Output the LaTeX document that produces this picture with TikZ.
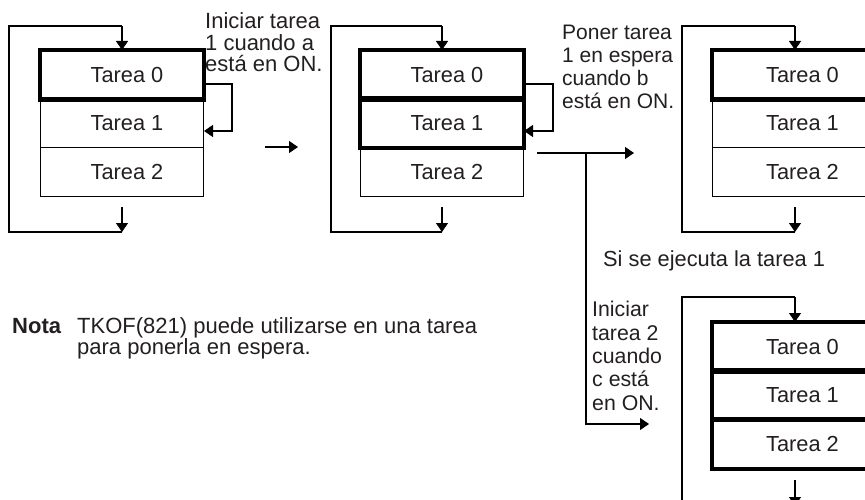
\documentclass[tikz,border=0pt]{standalone}
\usepackage{fontspec}
\setmainfont{Liberation Sans}
\usetikzlibrary{arrows.meta}
\definecolor{txt}{HTML}{231F20}
\begin{document}
\begin{tikzpicture}[x=1pt,y=-1pt,
  lbl/.style={font=\fontsize{21.8}{21.8}\selectfont, text=txt},
  row/.style={draw=black, line width=1pt, minimum width=163pt, minimum height=48.5pt,
              inner sep=0pt, anchor=north west, lbl},
  wide/.style={row, minimum width=170pt},
  bold/.style={draw=black, line width=4.5pt},
  wire/.style={draw=black, line width=1.2pt},
  arr/.style={wire, -{Triangle[length=9pt,width=12pt]}},
  note/.style={text=txt, align=left, anchor=base west, inner sep=0pt},
]
\useasboundingbox (0,0) rectangle (865,500);
\clip (0,0) rectangle (865,500);

% ---------- diagram 1 ----------
\node[row] (a0) at (40,50)    {\hspace*{10pt}Tarea 0};
\node[row] (a1) at (40,98.5)  {\hspace*{10pt}Tarea 1};
\node[row] (a2) at (40,147)   {\hspace*{10pt}Tarea 2};
\draw[bold] (a0.north west) rectangle (a0.south east);
\coordinate (a-t) at (122,26);
\coordinate (a-tl) at (9,26);
\coordinate (a-bl) at (9,232);
\coordinate (a-b) at (122,232);
\coordinate (a-o) at (122,207);
\draw[wire] (a-b) -- (a-bl) -- (a-tl) -- (a-t);
\draw[arr] (a-t) -- (a0.north -| a-t);
\draw[arr] (a-o) -- (a-b);
\coordinate (a-s1) at (232,84);
\coordinate (a-s2) at (232,131);
\draw[arr] (a0.east |- a-s1) -- (a-s1) -- (a-s2) -- (a1.east |- a-s2);
\node[note, font=\fontsize{22}{21.6}\selectfont] (ta) at (205,72)
  {Iniciar tarea\\1 cuando a\\está en ON.};

% arrow between 1 and 2
\coordinate (m1s) at (265,147);
\coordinate (m1e) at (298,147);
\draw[arr] (m1s) -- (m1e);

% ---------- diagram 2 ----------
\node[row] (b0) at (360,50)    {\hspace*{10pt}Tarea 0};
\node[row] (b1) at (360,98.5)  {\hspace*{10pt}Tarea 1};
\node[row] (b2) at (360,147)   {\hspace*{10pt}Tarea 2};
\draw[bold] (b0.north west) rectangle (b0.south east);
\draw[bold] (b1.north west) rectangle (b1.south east);
\coordinate (b-t) at (442,26);
\coordinate (b-tl) at (331,26);
\coordinate (b-bl) at (331,232);
\coordinate (b-b) at (442,232);
\coordinate (b-o) at (442,207);
\draw[wire] (b-b) -- (b-bl) -- (b-tl) -- (b-t);
\draw[arr] (b-t) -- (b0.north -| b-t);
\draw[arr] (b-o) -- (b-b);
\coordinate (b-s1) at (553,84);
\coordinate (b-s2) at (553,131);
\draw[arr] (b0.east |- b-s1) -- (b-s1) -- (b-s2) -- (b1.east |- b-s2);
\node[note, font=\fontsize{21}{23.3}\selectfont] (tb) at (562,109)
  {Poner tarea\\1 en espera\\cuando b\\está en ON.};

% branch arrows
\coordinate (m2s) at (537,153);
\coordinate (m2e) at (634,153);
\coordinate (m2j) at (586,153);
\coordinate (m2c) at (586,424);
\coordinate (m2f) at (649,424);
\draw[arr] (m2s) -- (m2e);
\draw[arr] (m2j) -- (m2c) -- (m2f);

% ---------- diagram 3 ----------
\node[wide] (c0) at (712,50)    {\hspace*{10pt}Tarea 0};
\node[wide] (c1) at (712,98.5)  {\hspace*{10pt}Tarea 1};
\node[wide] (c2) at (712,147)   {\hspace*{10pt}Tarea 2};
\draw[bold] (c0.north west) rectangle (c0.south east);
\coordinate (c-t) at (795,26);
\coordinate (c-tl) at (682,26);
\coordinate (c-bl) at (682,232);
\coordinate (c-b) at (795,232);
\coordinate (c-o) at (795,207);
\draw[wire] (c-b) -- (c-bl) -- (c-tl) -- (c-t);
\draw[arr] (c-t) -- (c0.north -| c-t);
\draw[arr] (c-o) -- (c-b);

\node[lbl, anchor=base west, inner sep=0pt] (si) at (603,266) {Si se ejecuta la tarea 1};

% ---------- diagram 4 ----------
\node[wide] (d0) at (712,322)    {\hspace*{10pt}Tarea 0};
\node[wide] (d1) at (712,370.7)  {\hspace*{10pt}Tarea 1};
\node[wide] (d2) at (712,419.3)  {\hspace*{10pt}Tarea 2};
\draw[bold] (d0.north west) rectangle (d0.south east);
\draw[bold] (d1.north west) rectangle (d1.south east);
\draw[bold] (d2.north west) rectangle (d2.south east);
\coordinate (d-t) at (795,297);
\coordinate (d-tl) at (682,297);
\coordinate (d-bl) at (682,506);
\coordinate (d-b) at (795,506);
\coordinate (d-o) at (795,480);
\draw[wire] (d-b) -- (d-bl) -- (d-tl) -- (d-t);
\draw[arr] (d-t) -- (d0.north -| d-t);
\draw[arr] (d-o) -- (d-b);
\node[note, font=\fontsize{21.3}{23.3}\selectfont] (td) at (592,410)
  {Iniciar\\tarea 2\\cuando\\c está\\en ON.};

% ---------- note ----------
\node[note, font=\fontsize{22}{21}\selectfont\bfseries] (nota) at (12,333) {Nota};
\node[note, font=\fontsize{22}{21}\selectfont] (nt) at (77,354)
  {TKOF(821) puede utilizarse en una tarea\\para ponerla en espera.};
\end{tikzpicture}
\end{document}
